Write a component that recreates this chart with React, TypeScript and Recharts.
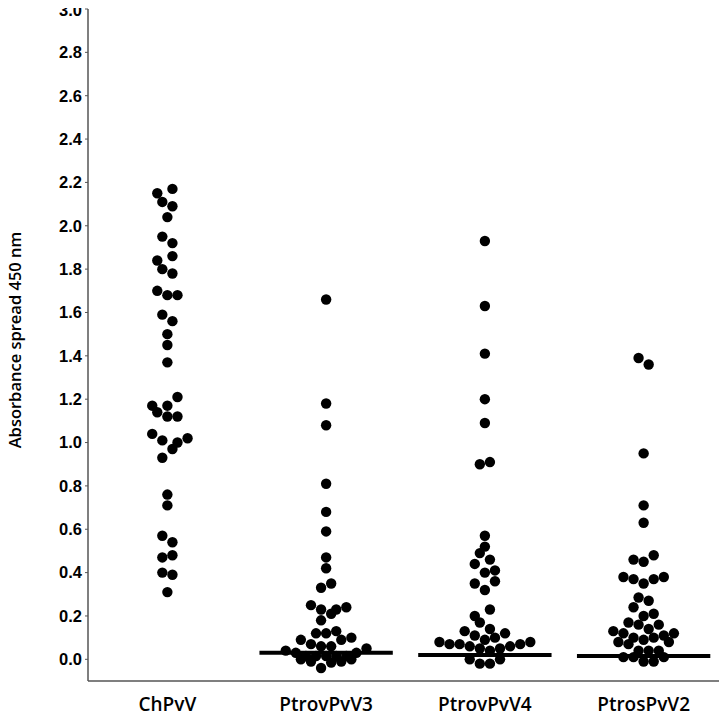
import { ReferenceLine, Scatter, ScatterChart, XAxis, YAxis } from 'recharts'

const categories = ['ChPyV', 'PtrovPyV3', 'PtrovPyV4', 'PtrosPyV2']

// absorbance values per virus
const chpyvValues = [
  2.17, 2.15, 2.11, 2.09, 2.04, 1.95, 1.92, 1.86, 1.84, 1.8, 1.78, 1.7, 1.68, 1.68, 1.59, 1.56, 1.5, 1.45, 1.37,
  1.21, 1.17, 1.17, 1.14, 1.12, 1.12, 1.04, 1.01, 1.0, 1.02, 0.97, 0.93, 0.76, 0.71, 0.57, 0.54, 0.47, 0.48, 0.4,
  0.39, 0.31,
]
const ptrov3Values = [
  1.66, 1.18, 1.08, 0.81, 0.68, 0.59, 0.47, 0.42, 0.33, 0.35, 0.25, 0.23, 0.21, 0.23, 0.24, 0.18, 0.12, 0.12, 0.13,
  0.09, 0.07, 0.06, 0.06, 0.09, 0.1, 0.04, 0.03, 0.015, 0.015, 0.015, 0.015, 0.015, 0.03, 0.05, 0.0, -0.01, -0.015,
  -0.01, 0.0, -0.04,
]
const ptrov4Values = [
  1.93, 1.63, 1.41, 1.2, 1.09, 0.9, 0.91, 0.57, 0.52, 0.49, 0.46, 0.44, 0.4, 0.41, 0.35, 0.36, 0.32, 0.23, 0.2, 0.17,
  0.13, 0.11, 0.14, 0.12, 0.09, 0.1, 0.08, 0.07, 0.07, 0.06, 0.05, 0.04, 0.05, 0.06, 0.07, 0.08, 0.0, -0.02, -0.02,
  0.0,
]
const ptros2Values = [
  1.39, 1.36, 0.95, 0.71, 0.63, 0.46, 0.45, 0.48, 0.38, 0.37, 0.35, 0.37, 0.38, 0.285, 0.27, 0.24, 0.2, 0.21, 0.17,
  0.16, 0.16, 0.14, 0.13, 0.12, 0.1, 0.09, 0.1, 0.11, 0.12, 0.08, 0.07, 0.08, 0.04, 0.04, 0.04, 0.01, 0.01, 0.01,
  -0.01, -0.01,
]

// beeswarm slot of each dot (left/right of the category centre, in half-dot steps)
const chpyvSlots = [
  1, -2, -1, 1, 0, -1, 1, 1, -2, -1, 1, -2, 0, 2, -1, 1, 0, 0, 0, 2, -3, 0, -2, 0, 2, -3, -1, 2, 4, 1, -1, 0, 0, -1, 1,
  -1, 1, -1, 1, 0,
]
const ptrov3Slots = [
  0, 0, 0, 0, 0, 0, 0, 0, -1, 1, -3, -1, 1, 2, 4, -1, -2, 0, 2, -5, -3, -1, 1, 3, 5, -8, -6, -4, -2, 0, 2, 4, 6, 8, -5,
  -3, 1, 3, 5, -1,
]
const ptrov4Slots = [
  0, 0, 0, 0, 0, -1, 1, 0, 0, -1, 1, -2, 0, 2, -2, 2, 0, 1, -2, -1, -4, -2, 1, 4, 0, 2, -9, -7, -5, -3, -1, 1, 3, 5, 7,
  9, -3, -1, 1, 3,
]
const ptros2Slots = [
  -1, 1, 0, 0, 0, -2, 0, 2, -4, -2, 0, 2, 4, -1, 1, -2, 0, 2, -3, -1, 3, 1, -6, -4, -2, 0, 2, 4, 6, -5, -3, 5, -1, 1, 3,
  -4, -2, 4, 0, 2,
]

// medians drawn as horizontal bars (none shown for ChPyV)
const medians = [null, 0.03, 0.02, 0.015]

const yTicks = [0, 0.2, 0.4, 0.6, 0.8, 1.0, 1.2, 1.4, 1.6, 1.8, 2.0, 2.2, 2.4, 2.6, 2.8, 3.0]

const SLOT = 0.0318
const MEDIAN_HALF = 0.42

const groups = [
  [chpyvValues, chpyvSlots],
  [ptrov3Values, ptrov3Slots],
  [ptrov4Values, ptrov4Slots],
  [ptros2Values, ptros2Slots],
]

const points = groups.flatMap(([vals, slots], i) =>
  vals.map((v, k) => ({ x: i + 1 + slots[k] * SLOT, y: v })),
)

const Dot = (p: any) => <circle cx={p.cx} cy={p.cy} r={5.2} fill="#000" />

export default function App() {
  return (
    // pull the chart over the body margin so the axis title has room at the left edge
    <div style={{ margin: -8, width: 727, height: 719 }}>
      <ScatterChart width={727} height={719} margin={{ top: 9, right: 4, left: 8, bottom: 0 }}>
        <XAxis
          type="number"
          dataKey="x"
          domain={[0.5, 4.5]}
          ticks={[1, 2, 3, 4]}
          tickFormatter={(v: number) => categories[v - 1]}
          tickLine={false}
          tickSize={0}
          tickMargin={17}
          height={38}
          axisLine={{ stroke: '#555', strokeWidth: 1.5 }}
          tick={{ fontSize: 19, fontWeight: 600, fill: '#000', fontFamily: 'Open Sans' }}
        />
        <YAxis
          type="number"
          dataKey="y"
          domain={[-0.1, 3.0]}
          ticks={yTicks}
          tickFormatter={(v: number) => v.toFixed(1)}
          width={80}
          tickSize={3}
          tickMargin={3}
          axisLine={{ stroke: '#555', strokeWidth: 1.5 }}
          tickLine={{ stroke: '#555' }}
          tick={{ fontSize: 16.5, fontWeight: 700, fill: '#000', fontFamily: 'Liberation Sans' }}
          label={{
            value: 'Absorbance spread 450 nm',
            angle: -90,
            position: 'center',
            dx: -33,
            dy: -5,
            style: { fontSize: 16.5, fontFamily: 'Open Sans', fontWeight: 600, fill: '#000' },
          }}
        />
        <Scatter data={points} shape={Dot} isAnimationActive={false} />
        {medians.map((m, i) =>
          m === null ? null : (
            <ReferenceLine
              key={i}
              segment={[
                { x: i + 1 - MEDIAN_HALF, y: m },
                { x: i + 1 + MEDIAN_HALF, y: m },
              ]}
              stroke="#000"
              strokeWidth={4}
            />
          ),
        )}
      </ScatterChart>
    </div>
  )
}
